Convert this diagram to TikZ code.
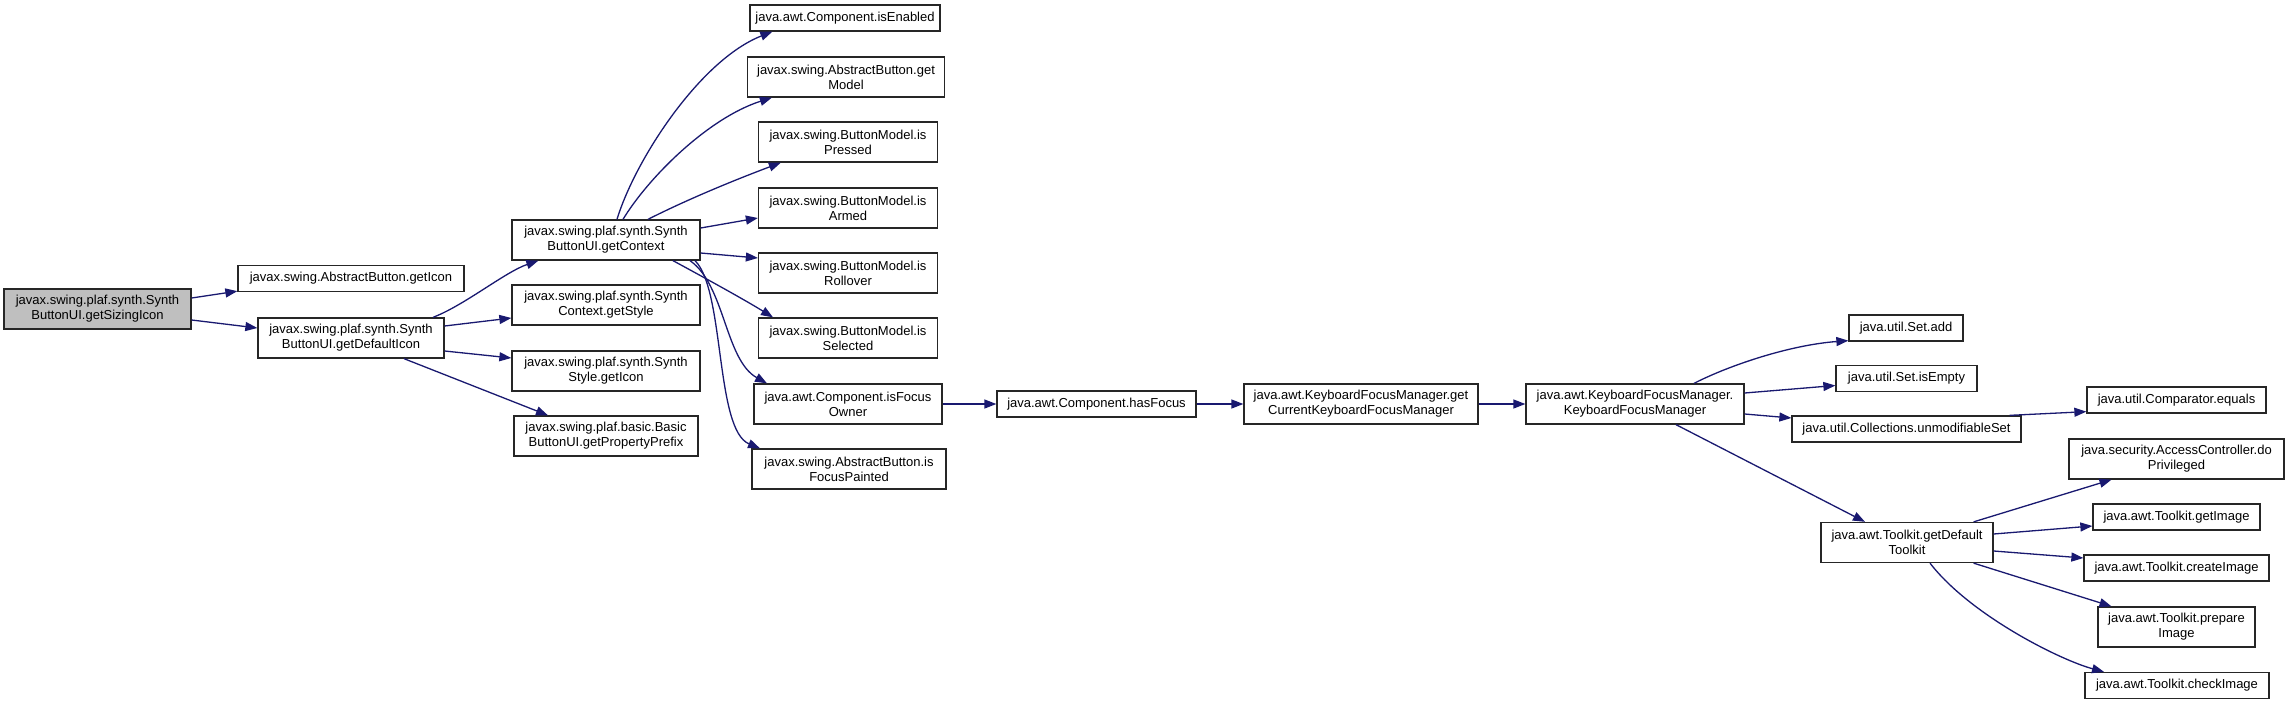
\documentclass[tikz,border=0pt]{standalone}
\usepackage{fontspec}
\setmainfont{Liberation Sans}
\usetikzlibrary{arrows.meta,calc}
\definecolor{edgeblue}{HTML}{191970}
\definecolor{rootgray}{HTML}{BFBFBF}
\tikzset{
  box/.style={draw=black!85, line width=1.3pt, fill=white, inner sep=0pt, align=center,
    font=\fontsize{13}{15}\selectfont, minimum height=26pt},
  box2/.style={box, minimum height=40pt},
  rootbox/.style={box2, fill=rootgray},
  link/.style={draw=edgeblue, line width=1.3pt, -{Triangle[length=12pt,width=9pt]}}
}
\begin{document}
\begin{tikzpicture}[x=1pt,y=-1pt]
\path[fill=white] (0,0) rectangle (2289,704);
\useasboundingbox (0,0) rectangle (2289,704);
% column 1-2
\node[rootbox, minimum width=187pt] (root) at (97.5,309) {javax.swing.plaf.synth.Synth\\ButtonUI.getSizingIcon};
\node[box, minimum width=226pt] (absIcon) at (351,278.5) {javax.swing.AbstractButton.getIcon};
\node[box2, minimum width=186pt] (defIcon) at (351,338) {javax.swing.plaf.synth.Synth\\ButtonUI.getDefaultIcon};
% column 3
\node[box2, minimum width=188pt] (ctx) at (606,240) {javax.swing.plaf.synth.Synth\\ButtonUI.getContext};
\node[box2, minimum width=188pt] (ctxStyle) at (606,305) {javax.swing.plaf.synth.Synth\\Context.getStyle};
\node[box2, minimum width=188pt] (styIcon) at (606,371) {javax.swing.plaf.synth.Synth\\Style.getIcon};
\node[box2, minimum width=184pt] (prefix) at (606,436) {javax.swing.plaf.basic.Basic\\ButtonUI.getPropertyPrefix};
% column 4
\node[box, minimum width=190pt] (enabled) at (845,18) {java.awt.Component.isEnabled};
\node[box2, minimum width=197pt] (model) at (846,77) {javax.swing.AbstractButton.get\\Model};
\node[box2, minimum width=179pt] (pressed) at (848,142) {javax.swing.ButtonModel.is\\Pressed};
\node[box2, minimum width=179pt] (armed) at (848,208) {javax.swing.ButtonModel.is\\Armed};
\node[box2, minimum width=179pt] (rollover) at (848,273) {javax.swing.ButtonModel.is\\Rollover};
\node[box2, minimum width=179pt] (selected) at (848,338) {javax.swing.ButtonModel.is\\Selected};
\node[box2, minimum width=188pt] (fowner) at (848,404) {java.awt.Component.isFocus\\Owner};
\node[box2, minimum width=194pt] (fpaint) at (849,469) {javax.swing.AbstractButton.is\\FocusPainted};
% chain
\node[box, minimum width=199pt] (hasfocus) at (1096.5,404) {java.awt.Component.hasFocus};
\node[box2, minimum width=234pt] (curkfm) at (1361,404) {java.awt.KeyboardFocusManager.get\\CurrentKeyboardFocusManager};
\node[box2, minimum width=218pt] (kfm) at (1635,404) {java.awt.KeyboardFocusManager.\\KeyboardFocusManager};
% right part
\node[box, minimum width=114pt] (setadd) at (1906,328) {java.util.Set.add};
\node[box, minimum width=141pt] (isempty) at (1906.5,378.5) {java.util.Set.isEmpty};
\node[box, minimum width=229pt] (unmod) at (1906.5,429) {java.util.Collections.unmodifiableSet};
\node[box, minimum width=179pt] (cmpeq) at (2176.5,400) {java.util.Comparator.equals};
\node[box2, minimum width=215pt] (doprv) at (2176.5,459) {java.security.AccessController.do\\Privileged};
\node[box2, minimum width=172pt] (deftk) at (1907,542.5) {java.awt.Toolkit.getDefault\\Toolkit};
\node[box, minimum width=167pt] (getimg) at (2176.5,517) {java.awt.Toolkit.getImage};
\node[box, minimum width=185pt] (crimg) at (2176.5,568) {java.awt.Toolkit.createImage};
\node[box2, minimum width=157pt] (prepimg) at (2176.5,627) {java.awt.Toolkit.prepare\\Image};
\node[box, minimum width=184pt] (chkimg) at (2177,685.5) {java.awt.Toolkit.checkImage};
% edges
\draw[link] ($(root.east)+(0,-11)$) -- ($(absIcon.south west)+(0,-1)$);
\draw[link] ($(root.east)+(0,11)$) -- ($(defIcon.west)+(0,-10)$);
\draw[link] ($(defIcon.north)+(82,0)$) .. controls (465,305) and (505,272) .. ($(ctx.south west)+(27,0)$);
\draw[link] ($(defIcon.east)+(0,-12)$) -- ($(ctxStyle.west)+(0,13)$);
\draw[link] ($(defIcon.east)+(0,13)$) -- ($(styIcon.west)+(0,-13)$);
\draw[link] ($(defIcon.south)+(53,0)$) -- ($(prefix.north)+(-58,0)$);
\draw[link] ($(ctx.north)+(11,0)$) .. controls (635,160) and (700,60) .. ($(enabled.south west)+(23,0)$);
\draw[link] ($(ctx.north)+(17,0)$) .. controls (648,178) and (708,118) .. ($(model.south west)+(25,0)$);
\draw[link] ($(ctx.north)+(42,0)$) .. controls (690,198) and (740,178) .. ($(pressed.south west)+(23,0)$);
\draw[link] ($(ctx.east)+(0,-12)$) -- ($(armed.west)+(0,10)$);
\draw[link] ($(ctx.east)+(0,13)$) -- ($(rollover.west)+(0,-15)$);
\draw[link] ($(ctx.south)+(67,0)$) .. controls (705,278) and (745,300) .. ($(selected.north)+(-75,0)$);
\draw[link] ($(ctx.south)+(84,0)$) .. controls (725,285) and (725,360) .. ($(fowner.north)+(-81,0)$);
\draw[link] ($(ctx.south)+(89,0)$) .. controls (725,290) and (715,430) .. ($(fpaint.north)+(-89,0)$);
\draw[link] (fowner.east) -- (hasfocus.west);
\draw[link] (hasfocus.east) -- (curkfm.west);
\draw[link] (curkfm.east) -- (kfm.west);
\draw[link] ($(kfm.north)+(59,0)$) .. controls (1730,365) and (1790,345) .. ($(setadd.south west)+(0,-1)$);
\draw[link] ($(kfm.east)+(0,-11)$) -- ($(isempty.west)+(0,7)$);
\draw[link] ($(kfm.east)+(0,10)$) -- ($(unmod.west)+(0,-11)$);
\draw[link] ($(unmod.north east)+(-12,0)$) -- ($(cmpeq.south west)+(0,-2)$);
\draw[link] ($(kfm.south)+(41,0)$) -- ($(deftk.north)+(-42,0)$);
\draw[link] ($(deftk.north east)+(-20,0)$) -- ($(doprv.south)+(-65,0)$);
\draw[link] ($(deftk.east)+(0,-8.5)$) -- ($(getimg.west)+(0,9)$);
\draw[link] ($(deftk.east)+(0,8.5)$) -- ($(crimg.west)+(0,-10)$);
\draw[link] ($(deftk.south east)+(-20,0)$) -- ($(prepimg.north)+(-65,0)$);
\draw[link] ($(deftk.south)+(23,0)$) .. controls (1970,615) and (2060,660) .. ($(chkimg.north)+(-73,0)$);
\end{tikzpicture}
\end{document}
